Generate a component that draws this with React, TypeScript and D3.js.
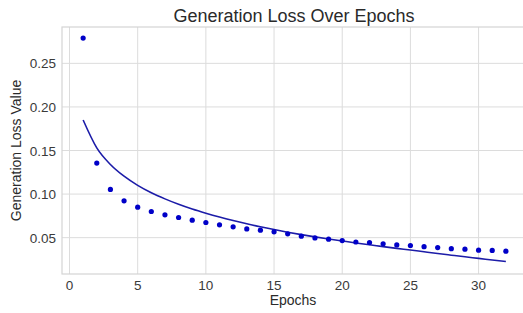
import React, { useEffect, useRef } from 'react';
import * as d3 from 'd3';

// loss per epoch (dots) and fitted trend (line)
const epochs = Array.from({ length: 32 }, (_, i) => i + 1);
const lossValues = [
  0.279, 0.1356, 0.1053, 0.0923, 0.085, 0.080, 0.0762, 0.0731, 0.070, 0.0674,
  0.0647, 0.0624, 0.060, 0.0586, 0.0567, 0.0544, 0.0517, 0.0497, 0.0482, 0.0466,
  0.045, 0.0443, 0.0429, 0.0417, 0.041, 0.0397, 0.0386, 0.0374, 0.0368, 0.0356,
  0.0353, 0.0345,
];
const trendValues = [
  0.185, 0.153, 0.134, 0.1205, 0.110, 0.1015, 0.0945, 0.0883, 0.0828, 0.078,
  0.0736, 0.0696, 0.0659, 0.0625, 0.0593, 0.0563, 0.0535, 0.0509, 0.0485, 0.0462,
  0.0439, 0.0418, 0.0397, 0.0377, 0.0358, 0.0338, 0.0318, 0.0299, 0.028, 0.0262,
  0.0244, 0.0226,
];
const xTicks = [0, 5, 10, 15, 20, 25, 30];
const yTicks = [0.05, 0.10, 0.15, 0.20, 0.25];

const W = 523;
const H = 313;
const margin = { top: 27, right: -4, bottom: 39, left: 62 };
const font = '"Liberation Sans", Arial, sans-serif';

export default function App() {
  const ref = useRef<SVGSVGElement>(null);

  useEffect(() => {
    const svg = d3.select(ref.current);
    svg.selectAll('*').remove();

    const x = d3.scaleLinear().domain([-0.55, 33.55]).range([margin.left, W - margin.right]);
    const y = d3.scaleLinear().domain([0.0083, 0.2917]).range([H - margin.bottom, margin.top]);

    const g = svg.append('g');

    // grid
    g.selectAll('line.vg').data(xTicks).enter().append('line')
      .attr('x1', d => x(d)).attr('x2', d => x(d))
      .attr('y1', margin.top).attr('y2', H - margin.bottom)
      .attr('stroke', '#dcdcdc').attr('stroke-width', 1);
    g.selectAll('line.hg').data(yTicks).enter().append('line')
      .attr('x1', margin.left).attr('x2', W - margin.right)
      .attr('y1', d => y(d)).attr('y2', d => y(d))
      .attr('stroke', '#dcdcdc').attr('stroke-width', 1);

    // frame
    g.append('rect')
      .attr('x', margin.left).attr('y', margin.top)
      .attr('width', W - margin.right - margin.left)
      .attr('height', H - margin.bottom - margin.top)
      .attr('fill', 'none').attr('stroke', '#d4d4d4').attr('stroke-width', 1.2);

    // tick labels
    g.selectAll('text.xt').data(xTicks).enter().append('text')
      .attr('x', d => x(d)).attr('y', H - margin.bottom + 16)
      .attr('text-anchor', 'middle')
      .attr('font-family', font).attr('font-size', 13.5).attr('fill', '#3a3a3a')
      .text(d => d);
    g.selectAll('text.yt').data(yTicks).enter().append('text')
      .attr('x', margin.left - 6).attr('y', d => y(d) + 5)
      .attr('text-anchor', 'end')
      .attr('font-family', font).attr('font-size', 13.5).attr('fill', '#3a3a3a')
      .text(d => d.toFixed(2));

    // trend line
    const line = d3.line<number>()
      .x((_, i) => x(epochs[i]))
      .y(d => y(d))
      .curve(d3.curveMonotoneX);
    g.append('path')
      .datum(trendValues)
      .attr('fill', 'none')
      .attr('stroke', '#1c1ca8')
      .attr('stroke-width', 1.6)
      .attr('d', line);

    // loss dots
    g.selectAll('circle').data(lossValues).enter().append('circle')
      .attr('cx', (_, i) => x(epochs[i]))
      .attr('cy', d => y(d))
      .attr('r', 2.6)
      .attr('fill', '#0000c8');

    // titles
    svg.append('text')
      .attr('x', 294).attr('y', 22)
      .attr('text-anchor', 'middle')
      .attr('font-family', font).attr('font-size', 18).attr('fill', '#2a2a2a')
      .text('Generation Loss Over Epochs');
    svg.append('text')
      .attr('x', 293).attr('y', 305)
      .attr('text-anchor', 'middle')
      .attr('font-family', font).attr('font-size', 14).attr('fill', '#2a2a2a')
      .text('Epochs');
    svg.append('text')
      .attr('transform', 'translate(21,' + (margin.top + H - margin.bottom) / 2 + ') rotate(-90)')
      .attr('text-anchor', 'middle')
      .attr('font-family', font).attr('font-size', 14).attr('fill', '#2a2a2a')
      .text('Generation Loss Value');
  }, []);

  return (
    <svg ref={ref} width={W} height={H}
         style={{ position: 'absolute', left: 0, top: 0, background: '#fff' }} />
  );
}
